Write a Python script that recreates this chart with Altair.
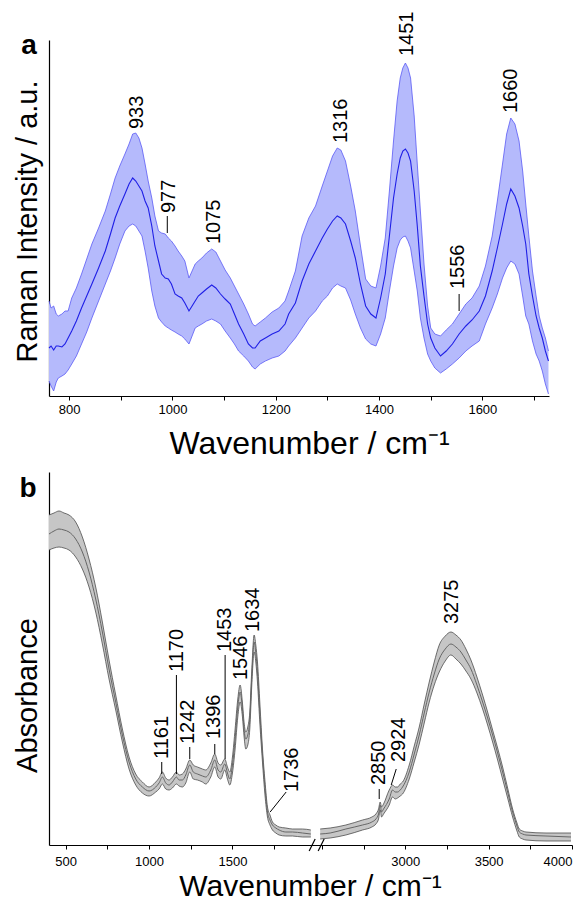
import altair as alt
import pandas as pd

FONT = "Liberation Sans"

# ---------------- Panel a : Raman ----------------
A_WAVE = [761, 765, 770, 775, 779, 786, 792, 798, 805, 814, 824, 834, 844, 857, 870, 880, 889, 898,
          908, 916, 923, 929, 935, 941, 947, 953, 960, 966, 973, 979, 986, 992, 998, 1005, 1011, 1018,
          1024, 1032, 1038, 1044, 1050, 1057, 1066, 1076, 1084, 1093, 1102, 1112, 1120, 1128, 1138,
          1147, 1155, 1160, 1170, 1180, 1193, 1206, 1218, 1225, 1238, 1251, 1264, 1277, 1290, 1300,
          1310, 1319, 1326, 1335, 1345, 1354, 1364, 1374, 1384, 1394, 1403, 1412, 1420, 1428, 1435,
          1441, 1446, 1451, 1456, 1461, 1468, 1474, 1480, 1487, 1494, 1500, 1508, 1519, 1530, 1542,
          1555, 1568, 1580, 1594, 1606, 1619, 1629, 1639, 1647, 1655, 1663, 1671, 1678, 1684, 1690,
          1697, 1704, 1710, 1716, 1722, 1728]
A_LOWER = [15, 10, 5, 14, 18, 20, 22, 26, 32, 40, 52, 64, 78, 95, 112, 125, 138, 152,
           165, 170, 172, 170, 165, 160, 145, 128, 105, 90, 78, 74, 70, 68, 66, 64, 62, 60,
           57, 52, 60, 68, 70, 72, 75, 77, 75, 72, 65, 58, 52, 45, 40,
           35, 29, 27, 32, 35, 38, 40, 45, 50, 58, 68, 78, 85, 95, 100,
           108, 112, 110, 108, 96, 82, 68, 57, 52, 50, 62, 78, 105, 130, 148,
           156, 159, 160, 155, 148, 125, 105, 78, 58, 42, 35, 28, 23, 27, 32,
           38, 45, 50, 55, 72, 88, 102, 118, 128, 135, 132, 122, 100, 80, 72,
           55, 42, 35, 25, 12, 2]
A_MEAN = [48, 50, 46, 50, 50, 49, 52, 58, 65, 75, 88, 100, 112, 128, 145, 162, 178, 190,
          202, 212, 218, 215, 210, 205, 195, 188, 170, 150, 135, 122, 118, 117, 112, 102, 100, 98,
          93, 85, 90, 95, 100, 103, 107, 111, 108, 102, 97, 92, 82, 72, 62,
          52, 48, 48, 55, 58, 62, 65, 72, 82, 93, 115, 132, 145, 158, 167,
          175, 180, 178, 172, 155, 138, 112, 90, 82, 78, 98, 122, 160, 198, 222,
          238, 245, 247, 243, 235, 205, 170, 130, 100, 72, 58, 48, 40, 45, 52,
          62, 70, 76, 85, 100, 125, 148, 172, 192, 207, 200, 188, 170, 152, 122,
          100, 80, 68, 58, 45, 35]
A_UPPER = [95, 88, 90, 82, 80, 82, 85, 85, 98, 108, 122, 137, 152, 168, 185, 202, 218, 230,
           242, 252, 262, 263, 258, 248, 232, 215, 198, 180, 165, 163, 162, 158, 155, 150, 145, 140,
           135, 118, 125, 132, 135, 138, 143, 147, 144, 135, 126, 118, 110, 102, 92,
           82, 72, 70, 74, 78, 84, 88, 95, 105, 125, 160, 178, 190, 210, 225,
           240, 248, 246, 235, 210, 185, 150, 117, 110, 108, 130, 158, 205, 255, 295,
           318, 328, 333, 328, 318, 280, 232, 185, 132, 90, 68, 62, 60, 66, 72,
           82, 92, 98, 110, 130, 160, 195, 232, 262, 278, 272, 255, 225, 192, 160,
           125, 100, 80, 68, 58, 45]

A_LABELS = ["933", "977", "1075", "1316", "1451", "1556", "1660"]
A_LABEL_X = [932, 994, 1081, 1326, 1455, 1553, 1655]
A_LABEL_Y = [267, 183, 152, 253, 340, 107, 283]
A_LEAD_X = [990, 1555]
A_LEAD_Y1 = [163, 85]
A_LEAD_Y2 = [180, 102]

# ---------------- Panel b : FTIR ----------------
B1_WAVE = [400, 430, 460, 490, 520, 560, 600, 640, 680, 720, 760, 800, 840, 880, 920, 960, 1000,
           1040, 1060, 1080, 1100, 1120, 1140, 1164, 1180, 1200, 1220, 1244, 1265, 1290, 1320, 1340,
           1370, 1394, 1414, 1430, 1454, 1470, 1484, 1500, 1516, 1532, 1546, 1560, 1570, 1580, 1592,
           1604, 1616, 1630, 1640, 1650, 1665, 1680, 1695, 1710, 1725, 1740, 1760, 1780, 1820, 1860,
           1920, 1970]
B1_LOWER = [295, 297, 298, 297, 295, 288, 276, 258, 233, 201, 166, 135, 103, 76, 60, 52, 49,
            53, 56, 61, 56, 55, 57, 61, 59, 58, 62, 73, 66, 65, 63, 61,
            68, 78, 68, 66, 75, 66, 60, 72, 96, 128, 143, 128, 108, 96, 100,
            116, 160, 193, 183, 163, 120, 83, 50, 28, 20, 15, 12, 10, 9, 9,
            8, 8]
B1_MEAN = [311, 314, 316, 315, 313, 306, 293, 273, 246, 213, 176, 143, 110, 83, 66, 58, 54,
           58, 62, 68, 62, 60, 63, 68, 65, 65, 70, 80, 73, 71, 69, 68,
           75, 85, 75, 73, 81, 72, 66, 80, 106, 138, 153, 136, 115, 106, 110,
           126, 168, 203, 192, 173, 130, 90, 58, 33, 25, 20, 17, 15, 13, 13,
           12, 11]
B1_UPPER = [330, 332, 334, 332, 330, 323, 308, 286, 258, 223, 185, 150, 116, 88, 71, 63, 58,
            63, 67, 73, 67, 65, 68, 73, 70, 71, 76, 85, 80, 78, 76, 75,
            82, 91, 82, 80, 86, 78, 73, 88, 116, 146, 160, 142, 122, 113, 118,
            133, 175, 210, 200, 183, 140, 96, 64, 38, 30, 23, 20, 18, 17, 16,
            16, 15]

B2_WAVE = [2490, 2550, 2644, 2744, 2800, 2824, 2840, 2850, 2858, 2870, 2904, 2924, 2940, 2954,
           2970, 2984, 3024, 3054, 3084, 3114, 3144, 3174, 3204, 3240, 3274, 3304, 3334, 3364,
           3394, 3430, 3464, 3494, 3524, 3554, 3584, 3614, 3644, 3670, 3684, 3704, 3724, 3844, 3994]
B2_LOWER = [6, 7, 10, 15, 18, 21, 26, 35, 28, 31, 40, 48, 46, 47,
            49, 51, 66, 83, 101, 122, 143, 160, 173, 184, 190, 186, 181, 174,
            166, 152, 136, 120, 103, 85, 66, 47, 28, 14, 8, 6, 5, 4, 4]
B2_MEAN = [11, 12, 16, 20, 23, 26, 31, 40, 33, 36, 46, 55, 53, 53,
           55, 58, 73, 91, 110, 132, 153, 171, 186, 196, 201, 198, 193, 185,
           176, 160, 143, 127, 110, 92, 73, 53, 33, 19, 13, 11, 10, 9, 8]
B2_UPPER = [16, 17, 20, 25, 28, 31, 36, 43, 38, 41, 55, 60, 58, 58,
            61, 63, 80, 99, 118, 141, 163, 183, 200, 209, 213, 210, 205, 196,
            185, 168, 150, 133, 115, 97, 78, 57, 36, 22, 16, 14, 13, 12, 12]

B_LABELS = ["1161", "1170", "1242", "1396", "1453", "1546", "1634", "1736", "2850", "2924", "3275"]
B_LABEL_X = [1076, 1168, 1236, 1392, 1458, 1552, 1626, 1858, 2844, 2962, 3282]
B_LABEL_Y = [86, 173, 101, 106, 193, 165, 213, 53, 60, 83, 221]
B_LEAD_X1 = [1076, 1164, 1244, 1394, 1456, 1726, 2844, 2916]
B_LEAD_X2 = [1076, 1164, 1244, 1394, 1456, 1822, 2844, 2946]
B_LEAD_Y1 = [71, 71, 86, 91, 86, 33, 46, 60]
B_LEAD_Y2 = [83, 170, 98, 101, 190, 53, 56, 76]
B_BREAKS = [1978, 2496]

A_TICKS = [800, 900, 1000, 1100, 1200, 1300, 1400, 1500, 1600, 1700]
B_TICKS = [500, 750, 1000, 1250, 1500, 1750, 2500, 2750, 3000, 3250, 3500, 3750, 4000]

CUT = 464          # x-axis break: 2000 .. 2500 squeezed into a small gap
BREAK_AT = 2200


def squeeze(w):
    return w - CUT if w > BREAK_AT else w


# ---------- data frames ----------
dfa = pd.DataFrame({"w": A_WAVE, "lo": A_LOWER, "m": A_MEAN, "hi": A_UPPER})
dfa_lab = pd.DataFrame({"w": A_LABEL_X, "v": A_LABEL_Y, "t": A_LABELS})
dfa_lead = pd.DataFrame({"w": A_LEAD_X, "v": A_LEAD_Y1, "v2": A_LEAD_Y2})

dfb = pd.concat([
    pd.DataFrame({"w": B1_WAVE, "lo": B1_LOWER, "m": B1_MEAN, "hi": B1_UPPER, "seg": 1}),
    pd.DataFrame({"w": B2_WAVE, "lo": B2_LOWER, "m": B2_MEAN, "hi": B2_UPPER, "seg": 2}),
])
dfb_lab = pd.DataFrame({"w": B_LABEL_X, "v": B_LABEL_Y, "t": B_LABELS})
dfb_lead = pd.DataFrame({"w": B_LEAD_X1, "w2": B_LEAD_X2, "v": B_LEAD_Y1, "v2": B_LEAD_Y2})
dfb_brk = pd.DataFrame({"w": B_BREAKS})

CALC = "datum.w > %d ? datum.w - %d : datum.w" % (BREAK_AT, CUT)
CALC2 = "datum.w2 > %d ? datum.w2 - %d : datum.w2" % (BREAK_AT, CUT)

TITLE_X = "Wavenumber / cm\u207b\u00b9"

# ---------- panel a ----------
AW, AH = 500, 356
xa_scale = alt.Scale(domain=[761, 1729], nice=False, zero=False)
ya_scale = alt.Scale(domain=[0, 356], nice=False, zero=False)
xa_axis = alt.Axis(title=TITLE_X, values=A_TICKS,
                   labelExpr="datum.value % 200 == 0 ? datum.label : ''",
                   format="d", tickSize=4, labelPadding=3, titlePadding=12,
                   titleX=260, titleFontSize=32, grid=False)
ya_axis = alt.Axis(title="Raman Intensity / a.u.", ticks=False, labels=False, grid=False,
                   titlePadding=7, titleY=181)

XA = alt.X("w:Q", scale=xa_scale, axis=xa_axis)

A_FILL = "#b5bafc"
A_EDGE = "#5a5af5"
A_LINE = "#1f1fe6"

a_band = alt.Chart(dfa).mark_area(color=A_FILL, opacity=1).encode(
    x=XA, y=alt.Y("lo:Q", scale=ya_scale, axis=ya_axis), y2="hi:Q")
a_hi = alt.Chart(dfa).mark_line(color=A_EDGE, strokeWidth=0.8).encode(
    x=XA, y=alt.Y("hi:Q", scale=ya_scale, axis=ya_axis))
a_lo = alt.Chart(dfa).mark_line(color=A_EDGE, strokeWidth=0.8).encode(
    x=XA, y=alt.Y("lo:Q", scale=ya_scale, axis=ya_axis))
a_m = alt.Chart(dfa).mark_line(color=A_LINE, strokeWidth=1.1).encode(
    x=XA, y=alt.Y("m:Q", scale=ya_scale, axis=ya_axis))
a_txt = alt.Chart(dfa_lab).mark_text(angle=270, align="left", baseline="middle",
                                     fontSize=20, font=FONT, color="black").encode(
    x=XA, y=alt.Y("v:Q", scale=ya_scale, axis=ya_axis), text="t:N")
a_lead = alt.Chart(dfa_lead).mark_rule(color="black", strokeWidth=1).encode(
    x=XA, y=alt.Y("v:Q", scale=ya_scale, axis=ya_axis), y2="v2:Q")
a_letter = alt.Chart(pd.DataFrame({"t": ["a"]})).mark_text(
    fontSize=28, fontWeight="bold", font=FONT, align="center", baseline="alphabetic",
    color="black").encode(x=alt.value(-20), y=alt.value(14), text="t:N")

chart_a = alt.layer(a_band, a_hi, a_lo, a_m, a_lead, a_txt, a_letter).properties(width=AW, height=AH)

# ---------- panel b ----------
BW, BH = 523, 373
xb_scale = alt.Scale(domain=[400, 4000 - CUT], nice=False, zero=False)
yb_scale = alt.Scale(domain=[0, 373], nice=False, zero=False)
b_tick_vals = [squeeze(t) for t in B_TICKS]
xb_axis = alt.Axis(title=TITLE_X, values=b_tick_vals,
                   labelExpr=("(datum.value > %d ? datum.value + %d : datum.value) %% 500 == 0 ? "
                              "format(datum.value > %d ? datum.value + %d : datum.value, 'd') : ''")
                   % (BREAK_AT, CUT, BREAK_AT, CUT),
                   tickSize=4, labelPadding=6, titlePadding=3, titleX=261, titleFontSize=30,
                   grid=False)
yb_axis = alt.Axis(title="Absorbance", ticks=False, labels=False, grid=False,
                   titlePadding=7, titleY=223)

XB = alt.X("xd:Q", scale=xb_scale, axis=xb_axis)

B_FILL = "#c6c6c6"
B_EDGE = "#4d4d4d"


def bbase(df):
    return alt.Chart(df).transform_calculate(xd=CALC)


b_band = bbase(dfb).mark_area(color=B_FILL, opacity=1, interpolate="monotone").encode(
    x=XB, y=alt.Y("lo:Q", scale=yb_scale, axis=yb_axis), y2="hi:Q", detail="seg:N")
b_hi = bbase(dfb).mark_line(color=B_EDGE, strokeWidth=0.8, interpolate="monotone").encode(
    x=XB, y=alt.Y("hi:Q", scale=yb_scale, axis=yb_axis), detail="seg:N")
b_lo = bbase(dfb).mark_line(color=B_EDGE, strokeWidth=0.8, interpolate="monotone").encode(
    x=XB, y=alt.Y("lo:Q", scale=yb_scale, axis=yb_axis), detail="seg:N")
b_m = bbase(dfb).mark_line(color="#666666", strokeWidth=1, interpolate="monotone").encode(
    x=XB, y=alt.Y("m:Q", scale=yb_scale, axis=yb_axis), detail="seg:N")
b_txt = bbase(dfb_lab).mark_text(angle=270, align="left", baseline="middle",
                                 fontSize=20, font=FONT, color="black").encode(
    x=XB, y=alt.Y("v:Q", scale=yb_scale, axis=yb_axis), text="t:N")
b_lead = bbase(dfb_lead).transform_calculate(xd2=CALC2).mark_rule(
    color="black", strokeWidth=1).encode(
    x=XB, x2="xd2:Q", y=alt.Y("v:Q", scale=yb_scale, axis=yb_axis), y2="v2:Q")
b_brk = bbase(dfb_brk).transform_calculate(
    xa="datum.xd - 18", xb="datum.xd + 18", ya="-6", yb="6").mark_rule(
    color="black", strokeWidth=1.2).encode(
    x=alt.X("xa:Q", scale=xb_scale, axis=xb_axis), x2="xb:Q",
    y=alt.Y("ya:Q", scale=yb_scale, axis=yb_axis), y2="yb:Q")
b_letter = alt.Chart(pd.DataFrame({"t": ["b"]})).mark_text(
    fontSize=28, fontWeight="bold", font=FONT, align="center", baseline="alphabetic",
    color="black").encode(x=alt.value(-21), y=alt.value(25), text="t:N")

chart_b = alt.layer(b_band, b_hi, b_lo, b_m, b_lead, b_txt, b_brk, b_letter).properties(
    width=BW, height=BH)

chart = alt.vconcat(chart_a, chart_b, spacing=13).properties(
    padding={"left": 5, "top": 3, "right": 5, "bottom": 5}
).configure_view(stroke=None).configure_axis(
    labelFont=FONT, titleFont=FONT, labelFontSize=13, titleFontSize=29,
    titleFontWeight="normal", labelColor="black", titleColor="black",
    domainColor="black", tickColor="black", domainWidth=1.2, tickWidth=1
)

chart.save("out.html", embed_options={"renderer": "svg", "actions": False})
